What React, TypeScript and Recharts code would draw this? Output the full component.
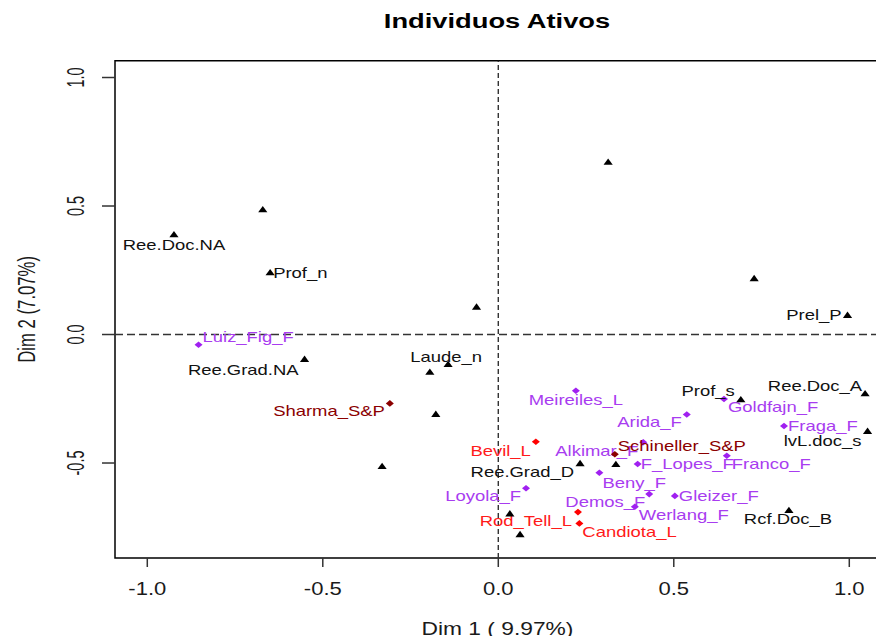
import React from "react";
import { ScatterChart, Scatter, XAxis, YAxis, ReferenceLine, ReferenceArea } from "recharts";

// category points (black triangles), unlabeled ones have an empty name
const catNames = [
  "Ree.Doc.NA", "", "Prof_n", "", "Ree.Grad.NA", "Laude_n", "", "", "", "",
  "", "Prel_P", "Prof_s", "Ree.Doc_A", "lvL.doc_s", "Rcf.Doc_B", "Ree.Grad_D", "", "", "",
];
const catX = [-0.924, -0.671, -0.65, -0.062, -0.552, -0.143, -0.195, -0.178, -0.331, 0.313,
  0.729, 0.995, 0.691, 1.045, 1.052, 0.828, 0.233, 0.335, 0.033, 0.062];
const catY = [0.39, 0.487, 0.242, 0.108, -0.095, -0.115, -0.145, -0.309, -0.512, 0.672,
  0.219, 0.076, -0.252, -0.229, -0.375, -0.683, -0.501, -0.504, -0.696, -0.777];

// individuals
const fNames = ["Luiz_Fig_F", "Meireiles_L", "Arida_F", "Goldfajn_F", "Fraga_F", "Franco_F", "F_Lopes_F",
  "Alkimar_F", "Beny_F", "Loyola_F", "Demos_F", "Gleizer_F", "Werlang_F"];
const fX = [-0.854, 0.221, 0.537, 0.643, 0.814, 0.651, 0.397, 0.413, 0.288, 0.079, 0.43, 0.503, 0.389];
const fY = [-0.04, -0.219, -0.311, -0.251, -0.356, -0.472, -0.504, -0.419, -0.538, -0.598, -0.621, -0.628, -0.67];

const lNames = ["Bevil_L", "Rod_Tell_L", "Candiota_L"];
const lX = [0.107, 0.227, 0.231];
const lY = [-0.417, -0.691, -0.735];

const spNames = ["Sharma_S&P", "Schineller_S&P"];
const spX = [-0.309, 0.332];
const spY = [-0.268, -0.466];

const xTicks = [-1, -0.5, 0, 0.5, 1];
const xTickLabels = ["-1.0", "-0.5", "0.0", "0.5", "1.0"];
const yTicks = [-0.5, 0, 0.5, 1];
const yTickLabels = ["-0.5", "0.0", "0.5", "1.0"];

const build = (names: string[], xs: number[], ys: number[]) =>
  names.map((name, i) => ({ name, x: xs[i], y: ys[i] }));

const catData = build(catNames, catX, catY);
const fData = build(fNames, fX, fY);
const lData = build(lNames, lX, lY);
const spData = build(spNames, spX, spY);

const xDomain = [-1.092, 1.0875];
const yDomain = [-0.8696, 1.0654];

const FONT = "'Liberation Sans', Arial, Helvetica, sans-serif";

// label placement: anchor, dx, dy (px from the point)
const labelLayout: Record<string, [string, number, number]> = {
  "Ree.Doc.NA": ["middle", 0, 11],
  "Prof_n": ["start", 3, 1],
  "Ree.Grad.NA": ["end", -6, 11],
  "Laude_n": ["middle", -2, -7],
  "Prel_P": ["end", -6, 0],
  "Prof_s": ["end", -6, -8],
  "Ree.Doc_A": ["end", -3, -7],
  "lvL.doc_s": ["end", -6, 10],
  "Rcf.Doc_B": ["middle", -1, 9],
  "Ree.Grad_D": ["end", -6, 9],
  "Luiz_Fig_F": ["start", 4, -8],
  "Sharma_S&P": ["end", -5, 8],
  "Meireiles_L": ["middle", 0, 9],
  "Arida_F": ["end", -5, 8],
  "Goldfajn_F": ["start", 4, 8],
  "Fraga_F": ["start", 4, 0],
  "Franco_F": ["start", 5, 8],
  "F_Lopes_F": ["start", 3, 0],
  "Alkimar_F": ["end", -5, 9],
  "Schineller_S&P": ["start", 3, -8],
  "Beny_F": ["start", 3, 10],
  "Loyola_F": ["end", -5, 8],
  "Demos_F": ["end", -4, 8],
  "Gleizer_F": ["start", 4, 0],
  "Werlang_F": ["start", 4, 8],
  "Bevil_L": ["end", -5, 9],
  "Rod_Tell_L": ["end", -6, 9],
  "Candiota_L": ["start", 3, 9],
};

const PointLabel = ({ x, y, name, color }: any) => {
  const l = labelLayout[name];
  if (!name || !l) return null;
  return (
    <text
      transform={`translate(${x + l[1]},${y + l[2]}) scale(1.23,1)`}
      textAnchor={l[0] as any}
      dominantBaseline="central"
      fontSize={15}
      fontFamily={FONT}
      fill={color}
    >
      {name}
    </text>
  );
};

const triangle = (color: string, textColor: string) => (props: any) => {
  const { cx, cy, payload } = props;
  return (
    <g>
      <polygon points={`${cx},${cy - 3.4} ${cx - 4.6},${cy + 3} ${cx + 4.6},${cy + 3}`} fill={color} />
      <PointLabel x={cx} y={cy} name={payload.name} color={textColor} />
    </g>
  );
};

const diamond = (color: string, textColor: string) => (props: any) => {
  const { cx, cy, payload } = props;
  return (
    <g>
      <polygon points={`${cx},${cy - 3.3} ${cx + 4},${cy} ${cx},${cy + 3.3} ${cx - 4},${cy}`} fill={color} />
      <PointLabel x={cx} y={cy} name={payload.name} color={textColor} />
    </g>
  );
};

const XTick = ({ x, payload }: any) => (
  <text
    transform={`translate(${x},595) scale(1.16,1)`}
    textAnchor="middle"
    fontSize={19}
    fontFamily={FONT}
    fill="#1a1a1a"
  >
    {xTickLabels[xTicks.indexOf(payload.value)]}
  </text>
);

const YTick = ({ y, payload }: any) => (
  <text
    transform={`translate(84,${y}) rotate(-90) scale(0.76,1.25)`}
    textAnchor="middle"
    fontSize={19}
    fontFamily={FONT}
    fill="#1a1a1a"
  >
    {yTickLabels[yTicks.indexOf(payload.value)]}
  </text>
);

const XTitle = ({ viewBox }: any) => (
  <text
    transform={`translate(${viewBox.x + viewBox.width / 2},635) scale(1.2,1)`}
    textAnchor="middle"
    fontSize={19}
    fontFamily={FONT}
    fill="#1a1a1a"
  >
    Dim 1 ( 9.97%)
  </text>
);

const YTitle = ({ viewBox }: any) => (
  <text
    transform={`translate(35,${viewBox.y + viewBox.height / 2}) rotate(-90) scale(0.88,1.25)`}
    textAnchor="middle"
    fontSize={19}
    fontFamily={FONT}
    fill="#1a1a1a"
  >
    Dim 2 (7.07%)
  </text>
);

export default function App() {
  return (
    <div
      style={{
        position: "fixed",
        left: 0,
        top: 0,
        width: 876,
        height: 636,
        overflow: "hidden",
        background: "#fff",
      }}
    >
      <svg width={876} height={40} style={{ position: "absolute", left: 0, top: 0 }}>
        <text
          transform="translate(497,28) scale(1.3,1)"
          textAnchor="middle"
          fontSize={21}
          fontWeight="bold"
          fontFamily={FONT}
          fill="#000"
        >
          Individuos Ativos
        </text>
      </svg>
      <div style={{ position: "absolute", left: 0, top: 0 }}>
        <ScatterChart width={900} height={660} margin={{ top: 60.7, right: 20, bottom: 42, left: 15 }}>
          <XAxis
            type="number"
            dataKey="x"
            domain={xDomain}
            ticks={xTicks}
            interval={0}
            allowDataOverflow
            axisLine={false}
            tickLine={{ stroke: "#333", strokeWidth: 1.5 }}
            tickSize={9}
            height={60}
            tick={XTick}
            label={<XTitle />}
          />
          <YAxis
            type="number"
            dataKey="y"
            domain={yDomain}
            ticks={yTicks}
            interval={0}
            allowDataOverflow
            axisLine={false}
            tickLine={{ stroke: "#333", strokeWidth: 1.5 }}
            tickSize={13}
            width={100}
            tick={YTick}
            label={<YTitle />}
          />
          <ReferenceArea
            x1={xDomain[0]}
            x2={xDomain[1]}
            y1={yDomain[0]}
            y2={yDomain[1]}
            fill="none"
            fillOpacity={0}
            stroke="#000"
            strokeWidth={1.5}
          />
          <ReferenceLine x={0} stroke="#333" strokeWidth={1.4} strokeDasharray="5 3" />
          <ReferenceLine y={0} stroke="#333" strokeWidth={1.4} strokeDasharray="8 4" />
          <Scatter data={fData} shape={diamond("#A020F0", "#A83CF0")} isAnimationActive={false} />
          <Scatter data={lData} shape={diamond("#FF0000", "#FF1A1A")} isAnimationActive={false} />
          <Scatter data={spData} shape={diamond("#8B0000", "#8B0000")} isAnimationActive={false} />
          <Scatter data={catData} shape={triangle("#000", "#111")} isAnimationActive={false} />
        </ScatterChart>
      </div>
    </div>
  );
}
